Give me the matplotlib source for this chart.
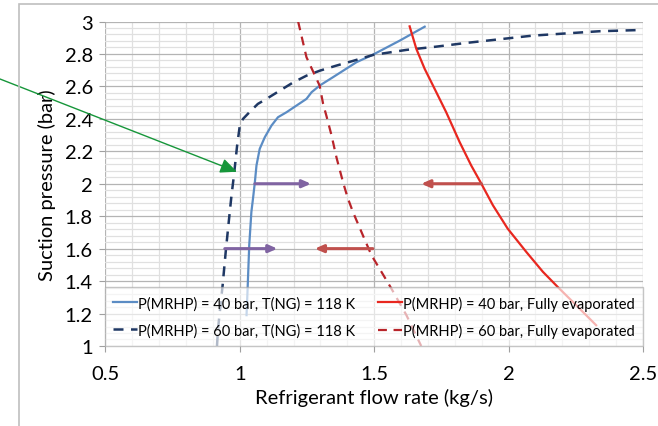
import matplotlib
matplotlib.use("Agg")
import matplotlib.pyplot as plt
import numpy as np
from matplotlib.ticker import MultipleLocator
from matplotlib.patches import Rectangle

plt.rcParams['font.family'] = ['Lato', 'DejaVu Sans']

# P(MRHP) = 40 bar, T(NG) = 118 K
x40_ng = [1.025, 1.029, 1.035, 1.043, 1.049, 1.056, 1.062, 1.074, 1.093, 1.118, 1.142, 1.174,
          1.211, 1.248, 1.267, 1.297, 1.347, 1.434, 1.496, 1.595, 1.688]
y40_ng = [1.19, 1.354, 1.62, 1.826, 1.908, 2.01, 2.113, 2.215, 2.287, 2.359, 2.41, 2.441,
          2.482, 2.523, 2.564, 2.605, 2.657, 2.749, 2.796, 2.882, 2.968]

# P(MRHP) = 60 bar, T(NG) = 118 K
x60_ng = [0.915, 0.919, 0.936, 0.948, 0.96, 0.969, 0.978, 0.99, 1.0, 1.012, 1.037, 1.067, 1.099,
          1.149, 1.198, 1.248, 1.298, 1.359, 1.421, 1.496, 1.62, 1.731, 1.843, 2.09, 2.338, 2.5]
y60_ng = [1.0, 1.108, 1.374, 1.59, 1.785, 1.928, 2.05, 2.236, 2.359, 2.40, 2.443, 2.492, 2.523,
          2.574, 2.624, 2.666, 2.697, 2.728, 2.757, 2.794, 2.825, 2.845, 2.868, 2.913, 2.94, 2.948]

# P(MRHP) = 40 bar, Fully evaporated
x40_fe = [1.632, 1.657, 1.688, 1.719, 1.768, 1.818, 1.861, 1.899, 1.942, 1.997, 2.066, 2.128,
          2.183, 2.252, 2.326]
y40_fe = [2.97, 2.831, 2.708, 2.605, 2.441, 2.257, 2.113, 2.0, 1.867, 1.723, 1.58, 1.457,
          1.364, 1.251, 1.128]

# P(MRHP) = 60 bar, Fully evaporated
x60_fe = [1.217, 1.248, 1.276, 1.297, 1.31, 1.322, 1.341, 1.36, 1.384, 1.401, 1.421, 1.458,
          1.49, 1.527, 1.564, 1.62, 1.675]
y60_fe = [3.0, 2.78, 2.68, 2.605, 2.492, 2.42, 2.3, 2.16, 2.01, 1.915, 1.826, 1.682,
          1.559, 1.457, 1.354, 1.19, 1.0]

labels = ['P(MRHP) = 40 bar, T(NG) = 118 K',
          'P(MRHP) = 60 bar, T(NG) = 118 K',
          'P(MRHP) = 40 bar, Fully evaporated',
          'P(MRHP) = 60 bar, Fully evaporated']

fig = plt.figure(figsize=(6.58, 4.27), dpi=100)
ax = fig.add_axes([0.1603, 0.1874, 0.8167, 0.7599])

# outer frame
fig.patches.append(Rectangle((19 / 658, -0.1), 1.2, 1 - 5 / 427 + 0.1, transform=fig.transFigure,
                             fill=False, edgecolor='#bfbfbf', linewidth=1.2))

ax.plot(x40_ng, y40_ng, color='#5b8cc4', lw=1.6, label=labels[0])
ax.plot(x60_ng, y60_ng, color='#1f3864', lw=1.8, ls=(0, (4, 3)), label=labels[1])
ax.plot(x40_fe, y40_fe, color='#e8271f', lw=1.6, label=labels[2])
ax.plot(x60_fe, y60_fe, color='#b8242a', lw=1.6, ls=(0, (4, 3)), label=labels[3])

# shift arrows
purple = '#8064a2'
red = '#c0504d'
arrows = [(1.056, 1.265, 2.0, purple), (0.944, 1.14, 1.6, purple),
          (1.899, 1.675, 2.0, red), (1.495, 1.279, 1.6, red)]
for x0, x1, yy, c in arrows:
    ax.annotate('', xy=(x1, yy), xytext=(x0, yy),
                arrowprops=dict(arrowstyle='-|>,head_length=0.5,head_width=0.22', color=c, lw=2.2,
                                shrinkA=0, shrinkB=0))

ax.set_xlim(0.5, 2.5)
ax.set_ylim(1, 3)
ax.xaxis.set_major_locator(MultipleLocator(0.5))
ax.xaxis.set_minor_locator(MultipleLocator(0.1))
ax.yaxis.set_major_locator(MultipleLocator(0.2))
ax.yaxis.set_minor_locator(MultipleLocator(0.04))
ax.xaxis.set_major_formatter(matplotlib.ticker.FuncFormatter(lambda v, p: format(v, 'g')))
ax.yaxis.set_major_formatter(matplotlib.ticker.FuncFormatter(lambda v, p: format(round(v, 1), 'g')))

ax.grid(which='major', color='#b4b4b4', linewidth=0.9)
ax.grid(which='minor', color='#e0e0e0', linewidth=0.9)
ax.set_axisbelow(True)
for s in ax.spines.values():
    s.set_visible(False)
ax.tick_params(which='major', length=4, color='#a0a0a0', labelsize=14.5, pad=5)
ax.tick_params(axis='x', pad=10)
ax.tick_params(which='minor', length=0)

ax.set_xlabel('Refrigerant flow rate (kg/s)', fontsize=14.5, labelpad=4)
ax.set_ylabel('Suction pressure (bar)', fontsize=14.5, labelpad=6)

leg = ax.legend(loc='lower left', bbox_to_anchor=(0, 0, 1, 1), ncol=2, mode='expand',
                fontsize=10.5, frameon=True, fancybox=False, framealpha=0.65,
                borderaxespad=0, handlelength=1.6, handletextpad=0.1, columnspacing=1.0,
                labelspacing=0.85, borderpad=0.55)
leg.get_frame().set_edgecolor('#a6a6a6')
leg.get_frame().set_linewidth(1.0)

# green pointer arrow
ax.annotate('', xy=(0.989, 2.074), xycoords='data',
            xytext=(0.0, 1 - 80 / 427), textcoords='figure fraction',
            arrowprops=dict(arrowstyle='-|>,head_length=1.0,head_width=0.45', color='#16963a', lw=1.0,
                            shrinkA=0, shrinkB=0),
            annotation_clip=False)

plt.savefig('out.png', dpi=100)
